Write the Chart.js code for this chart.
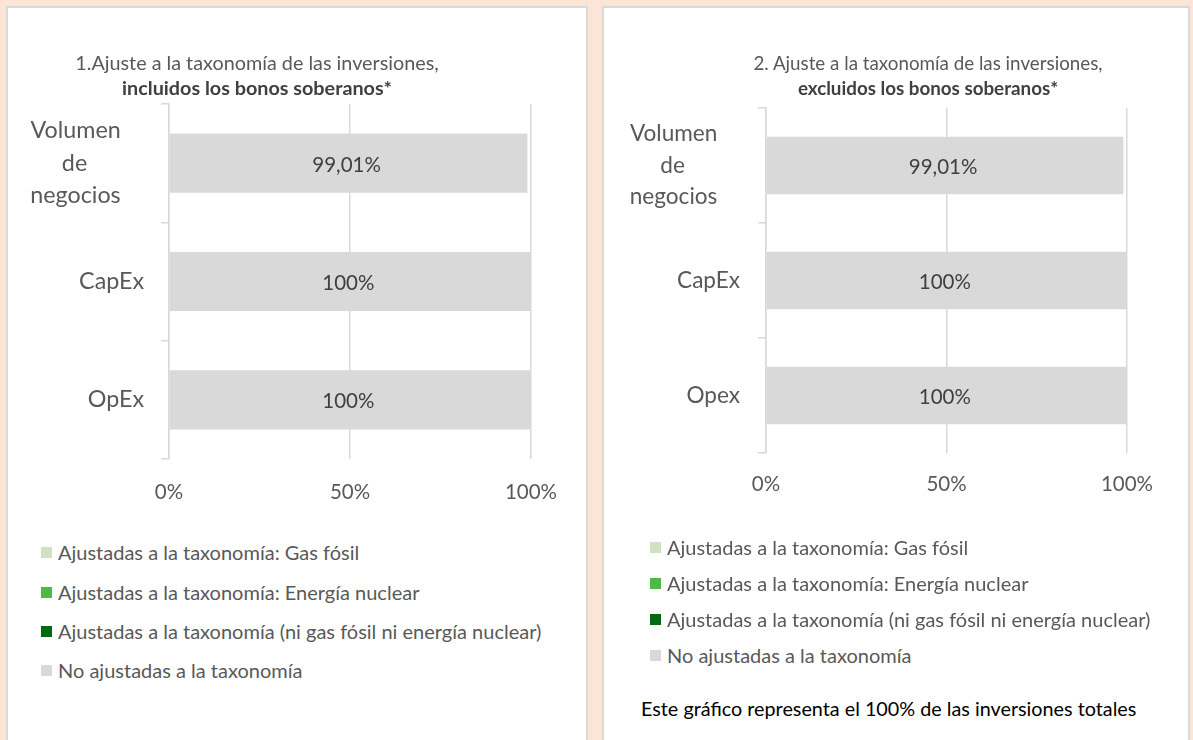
<!DOCTYPE html>
<html>
<head>
<meta charset="utf-8">
<script src="https://cdn.jsdelivr.net/npm/chart.js@4.4.1/dist/chart.umd.min.js"></script>
<style>
html,body{margin:0;padding:0;width:1193px;height:740px;overflow:hidden;background:#FBE5D6;font-family:Lato,"Open Sans",sans-serif;}
.panel{position:absolute;background:#fff;border:2px solid #D9D9D9;border-bottom:none;box-sizing:border-box;}
#p1{left:6px;top:6px;width:582px;height:740px;}
#p2{left:602px;top:6px;width:588px;height:740px;}
.txt{position:absolute;white-space:nowrap;font-family:Lato,sans-serif;}
.sq{position:absolute;width:11px;height:11px;}
canvas{position:absolute;}
</style>
</head>
<body>
<div class="panel" id="p1"></div>
<div class="panel" id="p2"></div>
<script>
// ---------------- data ----------------
const categoriesA = [["Volumen", "de", "negocios"], "CapEx", "OpEx"];
const categoriesB = [["Volumen", "de", "negocios"], "CapEx", "Opex"];
const seriesNames = [
  "Ajustadas a la taxonomía: Gas fósil",
  "Ajustadas a la taxonomía: Energía nuclear",
  "Ajustadas a la taxonomía (ni gas fósil ni energía nuclear)",
  "No ajustadas a la taxonomía"
];
const seriesColors = ["#D1E1C3", "#4DBA48", "#006A0E", "#D9D9D9"];
const gasFosilA = [0, 0, 0];
const nuclearA = [0, 0, 0];
const otherAlignedA = [0, 0, 0];
const notAlignedA = [99.01, 100, 100];
const gasFosilB = [0, 0, 0];
const nuclearB = [0, 0, 0];
const otherAlignedB = [0, 0, 0];
const notAlignedB = [99.01, 100, 100];
const xTickValues = [0, 50, 100];
const titleA = ["1.Ajuste a la taxonomía de las inversiones,", "incluidos los bonos soberanos*"];
const titleB = ["2. Ajuste a la taxonomía de las inversiones,", "excluidos los bonos soberanos*"];
const footnoteB = "Este gráfico representa el 100% de las inversiones totales";

// ---------------- layout (page pixels) ----------------
const G = [
  {canvas:{left:8, top:40, w:578, h:500}, area:{l:169, t:104, r:531, b:459}, yPad:17, xLabelY:492, catFit:65, volC:75,
   title:{cx:257, y1:62, y2:87, w:364}, legend:{sq:41, tx:58, ys:[552, 592, 631, 670]}},
  {canvas:{left:605, top:40, w:582, h:500}, area:{l:766, t:108, r:1127, b:453}, yPad:18, xLabelY:484, catFit:63, volC:673,
   title:{cx:928, y1:63, y2:88, w:350}, legend:{sq:650, tx:667, ys:[547, 583, 619, 655]}, foot:{x:641, y:708, w:495}}
];

const FAM = 'Lato';
const mctx = document.createElement('canvas').getContext('2d');
function measure(text, size, weight) {
  mctx.font = (weight || 'normal') + ' ' + size + 'px ' + FAM;
  return mctx.measureText(text).width;
}
function fit(text, target, weight) {
  return Math.round(100 * target / measure(text, 100, weight) * 10) / 10;
}
function padLine(line, size, d) {
  const w = measure(line, size);
  const pad = d - w / 2;
  const hw = measure('a\u200Aa', size) - measure('aa', size);
  const n = hw > 0 ? Math.max(0, Math.round(pad / hw)) : 0;
  return line + '\u200A'.repeat(Math.min(n, 400));
}
function fmt(v) { return String(v).replace('.', ',') + '%'; }

function addText(text, x, yc, size, color, weight, center) {
  const d = document.createElement('div');
  d.className = 'txt';
  const lh = Math.round(size * 1.25);
  d.textContent = text;
  d.style.fontSize = size + 'px';
  d.style.lineHeight = lh + 'px';
  d.style.color = color;
  d.style.fontWeight = weight || 'normal';
  d.style.top = (yc - lh / 2) + 'px';
  if (center) { d.style.left = x + 'px'; d.style.transform = 'translateX(-50%)'; }
  else d.style.left = x + 'px';
  d.style.zIndex = 5;
  document.body.appendChild(d);
  return d;
}

const dataLabelPlugin = {
  id: 'barValueLabels',
  afterDatasetsDraw(chart, args, opts) {
    const ctx = chart.ctx;
    chart.data.datasets.forEach((ds, di) => {
      const meta = chart.getDatasetMeta(di);
      meta.data.forEach((el, i) => {
        const v = ds.data[i];
        if (!v) return;
        const p = el.getProps(['x', 'y', 'base'], true);
        ctx.save();
        ctx.font = opts.size + 'px ' + FAM;
        ctx.fillStyle = '#404040';
        ctx.textAlign = 'center';
        ctx.textBaseline = 'middle';
        ctx.fillText(fmt(v), (p.x + p.base) / 2 - 2, p.y + 2);
        ctx.restore();
      });
    });
  }
};

function build(idx, cats, series, title) {
  const g = G[idx];
  const cv = document.createElement('canvas');
  cv.width = g.canvas.w; cv.height = g.canvas.h;
  cv.style.left = g.canvas.left + 'px'; cv.style.top = g.canvas.top + 'px';
  cv.style.width = g.canvas.w + 'px'; cv.style.height = g.canvas.h + 'px';
  document.body.appendChild(cv);
  const aL = g.area.l - g.canvas.left, aT = g.area.t - g.canvas.top;
  const aR = g.area.r - g.canvas.left, aB = g.area.b - g.canvas.top;
  const catSize = fit('CapEx', g.catFit);
  const tickSize = fit('100%', 52);
  const R = g.area.l - 8 - g.yPad;
  const labels = cats.map(c => Array.isArray(c) ? c.map(line => padLine(line, catSize, R - g.volC)) : c);
  const datasets = series.map((arr, i) => ({
    label: seriesNames[i], data: arr, backgroundColor: seriesColors[i], borderWidth: 0,
    barPercentage: 0.5, categoryPercentage: 1.0
  }));
  new Chart(cv, {
    type: 'bar',
    data: {labels, datasets},
    plugins: [dataLabelPlugin],
    options: {
      indexAxis: 'y', responsive: false, animation: false, devicePixelRatio: 1,
      layout: {padding: {left: 0, top: aT, right: g.canvas.w - aR, bottom: 0}},
      plugins: {legend: {display: false}, tooltip: {enabled: false}, title: {display: false},
                barValueLabels: {size: tickSize}},
      scales: {
        x: {
          stacked: true, min: 0, max: 100,
          afterBuildTicks: s => { s.ticks = xTickValues.map(v => ({value: v})); },
          afterFit: s => { s.height = g.canvas.h - aB; },
          grid: {color: '#D9D9D9', lineWidth: 1.5, drawTicks: false},
          border: {display: false},
          ticks: {padding: (g.xLabelY - g.area.b) - 0.6 * tickSize, color: '#595959',
                  font: {family: FAM, size: tickSize}, callback: v => v + '%', maxRotation: 0, autoSkip: false}
        },
        y: {
          stacked: true,
          afterFit: s => { s.width = aL; },
          grid: {drawOnChartArea: false, drawTicks: true, tickLength: 8, color: '#D9D9D9', lineWidth: 1.5},
          border: {display: true, color: '#D9D9D9', width: 1.5},
          ticks: {padding: g.yPad, color: '#595959', crossAlign: 'near', autoSkip: false,
                  font: {family: FAM, size: catSize, lineHeight: 1.4}}
        }
      }
    }
  });
  // title
  const ts = fit(title[0], g.title.w);
  addText(title[0], g.title.cx, g.title.y1, ts, '#595959', 'normal', true);
  addText(title[1], g.title.cx, g.title.y2, ts, '#404040', 'bold', true);
  // legend built from the chart's datasets
  const ls = fit(seriesNames[1], 361.5);
  datasets.forEach((ds, i) => {
    const y = g.legend.ys[i];
    const sq = document.createElement('div');
    sq.className = 'sq';
    sq.style.left = g.legend.sq + 'px';
    sq.style.top = (y - 5.5) + 'px';
    sq.style.background = ds.backgroundColor;
    document.body.appendChild(sq);
    addText(ds.label, g.legend.tx, y, ls, '#595959', 'normal', false);
  });
  if (g.foot) {
    const fs = fit(footnoteB, g.foot.w);
    addText(footnoteB, g.foot.x, g.foot.y, fs, '#000000', 'normal', false);
  }
}

build(0, categoriesA, [gasFosilA, nuclearA, otherAlignedA, notAlignedA], titleA);
build(1, categoriesB, [gasFosilB, nuclearB, otherAlignedB, notAlignedB], titleB);
</script>
</body>
</html>
